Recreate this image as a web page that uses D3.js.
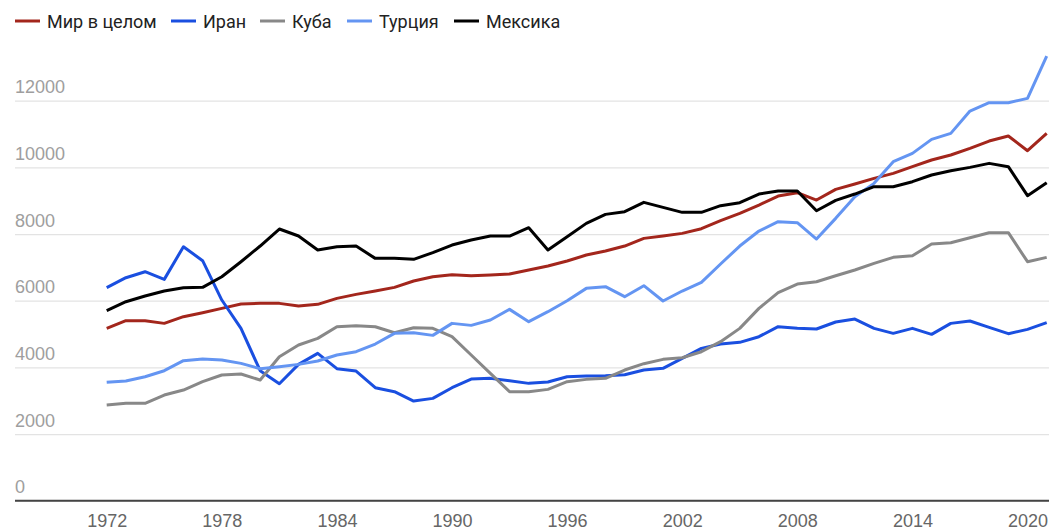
<!doctype html>
<html lang="ru">
<head>
<meta charset="utf-8">
<title>Мир в целом, Иран, Куба, Турция, Мексика</title>
<style>
	body { margin: 0; background: #fff; }
	svg { display: block; font-family: Roboto, "Liberation Sans", sans-serif; }
</style>
</head>
<body>
<svg id="chart"></svg>
<script src="https://cdn.jsdelivr.net/npm/d3@7/dist/d3.min.js"></script>
<script>
(function () {
	"use strict";

	var years = d3.range(1972, 2022);

	var world = [5170, 5400, 5400, 5320, 5520, 5640, 5770, 5900, 5920, 5920,
		5840, 5890, 6070, 6190, 6290, 6400, 6590, 6720, 6780, 6750,
		6770, 6800, 6920, 7040, 7190, 7370, 7490, 7640, 7870, 7940,
		8020, 8160, 8400, 8620, 8870, 9140, 9240, 9020, 9340, 9500,
		9670, 9820, 10020, 10220, 10370, 10570, 10790, 10940, 10500, 11020];

	var iran = [6390, 6690, 6870, 6640, 7620, 7200, 6020, 5170, 3900, 3510,
		4090, 4420, 3960, 3890, 3390, 3270, 2990, 3070, 3390, 3650,
		3670, 3600, 3520, 3560, 3720, 3740, 3750, 3780, 3920, 3970,
		4270, 4570, 4700, 4750, 4920, 5220, 5170, 5150, 5360, 5450,
		5170, 5020, 5170, 4990, 5320, 5390, 5200, 5010, 5140, 5340];

	var cuba = [2870, 2920, 2920, 3170, 3320, 3570, 3770, 3800, 3620, 4320,
		4670, 4870, 5220, 5250, 5220, 5040, 5190, 5170, 4920, 4370,
		3820, 3270, 3270, 3340, 3570, 3640, 3670, 3920, 4110, 4240,
		4290, 4470, 4770, 5170, 5770, 6240, 6500, 6570, 6750, 6920,
		7120, 7300, 7350, 7700, 7740, 7890, 8040, 8040, 7170, 7300];

	var turkey = [3550, 3590, 3720, 3900, 4200, 4250, 4220, 4120, 3960, 4020,
		4090, 4190, 4370, 4470, 4700, 5020, 5040, 4960, 5320, 5260,
		5420, 5740, 5370, 5670, 6000, 6370, 6420, 6120, 6450, 5990,
		6290, 6550, 7100, 7640, 8090, 8370, 8340, 7850, 8470, 9120,
		9520, 10170, 10420, 10840, 11020, 11690, 11940, 11940, 12070, 13340];

	var mexico = [5700, 5970, 6140, 6290, 6390, 6400, 6720, 7170, 7640, 8150,
		7940, 7520, 7620, 7640, 7270, 7270, 7240, 7440, 7670, 7820,
		7940, 7940, 8190, 7520, 7920, 8320, 8590, 8670, 8950, 8800,
		8650, 8650, 8850, 8940, 9200, 9290, 9290, 8700, 9010, 9200,
		9420, 9420, 9570, 9770, 9900, 10000, 10120, 10020, 9150, 9540];

	var seriesNames = ["Мир в целом", "Иран", "Куба", "Турция", "Мексика"];
	var seriesColors = ["#a3261c", "#1a4fe0", "#888888", "#6495f2", "#000000"];
	var yTicks = [0, 2000, 4000, 6000, 8000, 10000, 12000];
	var xTicks = [1972, 1978, 1984, 1990, 1996, 2002, 2008, 2014, 2020];

	var W = 1049, H = 530;
	var svg = d3.select("#chart").attr("width", W).attr("height", H);

	var x = d3.scaleLinear().domain([1972, 2021]).range([106.7, 1046.7]);
	var y = d3.scaleLinear().domain([0, 12000]).range([500.7, 100.7]);

	// horizontal grid + y labels
	var gy = svg.append("g")
		.attr("transform", "translate(15,0)")
		.call(d3.axisRight(y).tickValues(yTicks).tickSize(W - 15).tickFormat(d3.format("d")));
	gy.select(".domain").remove();
	gy.selectAll(".tick line").attr("stroke", "#e3e3e3").attr("stroke-width", 1.3);
	gy.selectAll(".tick text")
		.attr("x", 0).attr("dy", -8).attr("text-anchor", "start")
		.attr("fill", "#9e9e9e").style("font-size", "18px");

	// x axis with baseline
	var gx = svg.append("g")
		.attr("transform", "translate(0," + y(0) + ")")
		.call(d3.axisBottom(x).tickValues(xTicks).tickSize(0).tickFormat(d3.format("d")));
	gx.select(".domain").remove();
	gx.selectAll(".tick text").attr("y", 26).attr("dy", 0)
		.attr("fill", "#666").style("font-size", "18px");
	svg.append("line")
		.attr("x1", 15).attr("x2", W)
		.attr("y1", y(0)).attr("y2", y(0))
		.attr("stroke", "#444").attr("stroke-width", 2);

	var data = [world, iran, cuba, turkey, mexico];
	var line = d3.line()
		.x(function (d, i) { return x(years[i]); })
		.y(function (d) { return y(d); });

	data.forEach(function (vals, k) {
		svg.append("path")
			.datum(vals)
			.attr("fill", "none")
			.attr("stroke", seriesColors[k])
			.attr("stroke-width", 3)
			.attr("stroke-linejoin", "round")
			.attr("d", line);
	});

	// legend
	var legendX = [15, 171, 260, 347, 454];
	var lg = svg.append("g").attr("class", "legend");
	seriesNames.forEach(function (name, k) {
		var g = lg.append("g").attr("transform", "translate(" + legendX[k] + ",21)");
		g.append("line").attr("x1", 0).attr("x2", 25)
			.attr("stroke", seriesColors[k]).attr("stroke-width", 3);
		g.append("text").attr("x", 32).attr("y", 6.5)
			.attr("fill", "#222").style("font-size", "18px").text(name);
	});
})();
</script>
</body>
</html>
